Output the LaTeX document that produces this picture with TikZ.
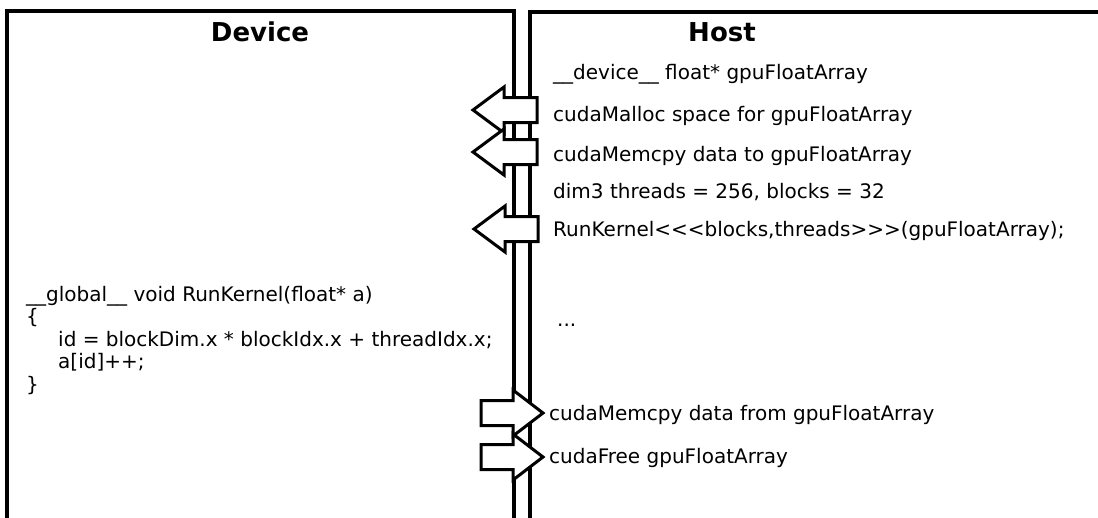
\documentclass[tikz,border=0pt]{standalone}
\usepackage{fontspec}
\setmainfont{DejaVu Sans}
\begin{document}
\begin{tikzpicture}[x=1pt, y=-1pt,
  lane/.style={line width=3.2pt, line cap=butt, line join=miter},
  blockarrow/.style={draw=black, fill=white, line width=3pt, line join=miter},
  title/.style={font=\fontsize{26}{30}\selectfont\bfseries, inner sep=0pt},
  code/.style={font=\fontsize{20}{22.5}\selectfont, inner sep=0pt, anchor=base west},
  pics/toleft/.style={code={
    \draw[blockarrow] (0,0) -- (31,-23) -- (31,-12.5) -- (64,-12.5)
      -- (64,12.5) -- (31,12.5) -- (31,23) -- cycle;}},
  pics/toright/.style={code={
    \draw[blockarrow] (0,0) -- (-30,-23) -- (-30,-12.5) -- (-62,-12.5)
      -- (-62,12.5) -- (-30,12.5) -- (-30,23) -- cycle;}}
]
\useasboundingbox (0,0) rectangle (1098,517);

% the two lanes, open at the bottom
\draw[lane] (7,518) -- (7,11) -- (514,11) -- (514,518);
\draw[lane] (530,518) -- (530,12) -- (1100,12);

% lane titles
\node[title] (device) at (260,32) {Device};
\node[title] (host) at (722,32) {Host};

% host side program
\node[code] (decl)   at (553,79)  {\_\_device\_\_ float* gpuFloatArray};
\node[code] (malloc) at (553,121) {cudaMalloc space for gpuFloatArray};
\node[code] (cpyto)  at (553,161) {cudaMemcpy data to gpuFloatArray};
\node[code] (dims)   at (553,198) {dim3 threads = 256, blocks = 32};
\node[code] (launch) at (553,236) {RunKernel<{}<{}<blocks,threads>{}>{}>(gpuFloatArray);};
\node[code] (dots)   at (557,326) {...};
\node[code] (cpyfrom) at (549,420) {cudaMemcpy data from gpuFloatArray};
\node[code] (free)   at (549,463) {cudaFree gpuFloatArray};

% device side kernel
\node[code, align=left, anchor=north west] (kernel) at (26,286)
  {\_\_global\_\_ void RunKernel(float* a)\\
   \{\\
   \hspace*{32pt}id = blockDim.x * blockIdx.x + threadIdx.x;\\
   \hspace*{32pt}a[id]++;\\
   \}};

% transfers between host and device
\pic at (473,110) {toleft};
\pic at (473,152) {toleft};
\pic at (474,229) {toleft};
\pic at (543,413) {toright};
\pic at (543,457) {toright};
\end{tikzpicture}
\end{document}
